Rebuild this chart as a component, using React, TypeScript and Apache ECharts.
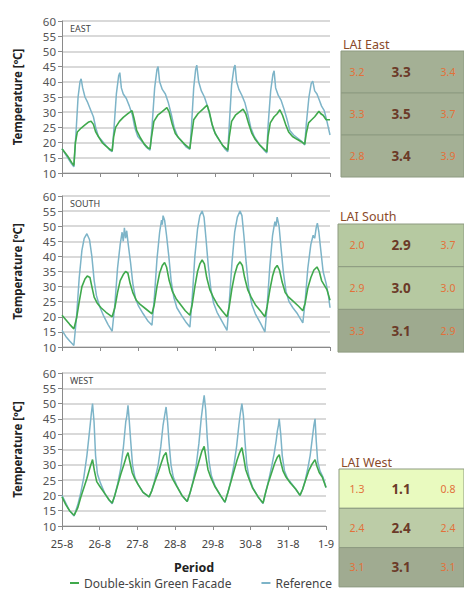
import React, { useEffect, useRef } from "react";
import * as echarts from "echarts";

const DATE_LABELS = ["25-8", "26-8", "27-8", "28-8", "29-8", "30-8", "31-8", "1-9"];
const SERIES_NAMES = ["Double-skin Green Facade", "Reference"];
const PANEL_NAMES = ["EAST", "SOUTH", "WEST"];

const EAST_REF = [
  [0, 18], [0.15, 15], [0.25, 13], [0.31, 12], [0.36, 22], [0.42, 35], [0.47, 40], [0.5, 41], [0.54, 38], [0.6, 35], [0.66, 33.5], [0.74, 31], [0.82, 28.5], [0.88, 25], [0.95, 22], [1.05, 20.5], [1.15, 19], [1.25, 17.5], [1.31, 17],
  [1.36, 25], [1.42, 36], [1.48, 42], [1.51, 43], [1.55, 38], [1.6, 36], [1.68, 34.5], [1.76, 32], [1.84, 29], [1.9, 25], [1.98, 22], [2.08, 20.5], [2.2, 18.5], [2.3, 17.5],
  [2.35, 25], [2.42, 38], [2.48, 44], [2.51, 45], [2.55, 40], [2.62, 37.5], [2.7, 36], [2.78, 33], [2.86, 29], [2.93, 25], [3.02, 22], [3.12, 20.5], [3.25, 18.5], [3.34, 17.8],
  [3.38, 25], [3.44, 38], [3.49, 44], [3.52, 45.5], [3.57, 40], [3.64, 37], [3.72, 35], [3.8, 32], [3.88, 28], [3.95, 24.5], [4.05, 22], [4.15, 20], [4.25, 18], [4.33, 17],
  [4.37, 26], [4.43, 39], [4.49, 44.5], [4.52, 45.5], [4.56, 40], [4.62, 37.5], [4.7, 35.5], [4.78, 33], [4.86, 29], [4.93, 25], [5.02, 22], [5.15, 19.5], [5.28, 17.5], [5.35, 16.6],
  [5.38, 25], [5.45, 37], [5.51, 42.5], [5.54, 43.6], [5.58, 38], [5.65, 35.5], [5.72, 34], [5.8, 31], [5.88, 27.5], [5.95, 24], [6.05, 22.5], [6.15, 21.5], [6.25, 20.5], [6.34, 19.2],
  [6.38, 26], [6.45, 35], [6.51, 39.5], [6.55, 40.2], [6.6, 37], [6.66, 36], [6.72, 34], [6.78, 32], [6.85, 30.5], [6.92, 27], [7.0, 22.5],
];
const EAST_DSGF = [
  [0, 18], [0.15, 15.5], [0.25, 13.5], [0.31, 12.5], [0.35, 20], [0.4, 23.5], [0.5, 24.8], [0.6, 25.8], [0.7, 26.8], [0.76, 27], [0.82, 26], [0.88, 23.5], [0.95, 22], [1.05, 20], [1.15, 18.8], [1.25, 17.8], [1.31, 17.3],
  [1.35, 22], [1.4, 25], [1.5, 27], [1.6, 28.3], [1.72, 29.5], [1.83, 30.5], [1.88, 28], [1.95, 24], [2.05, 21.5], [2.15, 19.5], [2.25, 18.2], [2.3, 18],
  [2.34, 22], [2.4, 27], [2.5, 29], [2.6, 30], [2.74, 31.5], [2.8, 30], [2.88, 26], [2.96, 23], [3.05, 21.5], [3.2, 19.5], [3.34, 18],
  [3.38, 22], [3.44, 27.5], [3.55, 29.5], [3.68, 31], [3.79, 32.3], [3.85, 30], [3.92, 26], [4.0, 23], [4.1, 21], [4.2, 19], [4.33, 17.5],
  [4.37, 22], [4.43, 27], [4.53, 29], [4.63, 30], [4.73, 31], [4.8, 29.5], [4.88, 26], [4.96, 23], [5.05, 21], [5.18, 19], [5.35, 17],
  [5.38, 22], [5.44, 26.5], [5.54, 28.5], [5.62, 29.5], [5.69, 30.8], [5.76, 29], [5.84, 26], [5.92, 23.5], [6.02, 22], [6.15, 21], [6.25, 20.3], [6.34, 19.5],
  [6.38, 23], [6.44, 26.5], [6.52, 27.5], [6.6, 28.5], [6.71, 30.3], [6.76, 29.5], [6.82, 29], [6.9, 27.5], [7.0, 27.5],
];

const SOUTH_REF = [
  [0, 15.5], [0.1, 13.5], [0.2, 12], [0.31, 10.5], [0.38, 20], [0.45, 33], [0.52, 42], [0.58, 46], [0.65, 47.5], [0.72, 45.5], [0.78, 40], [0.84, 32], [0.9, 27], [0.98, 23.5], [1.08, 20.5], [1.2, 17.5], [1.31, 15.2],
  [1.38, 24], [1.45, 36], [1.52, 44], [1.57, 48], [1.6, 45], [1.63, 49.5], [1.66, 46], [1.69, 48.5], [1.73, 44], [1.79, 38], [1.85, 31], [1.92, 26], [2.0, 23.5], [2.12, 21], [2.25, 18.5], [2.35, 17.2],
  [2.41, 26], [2.48, 39], [2.55, 48], [2.6, 52], [2.62, 50.5], [2.64, 53.5], [2.68, 52], [2.73, 47], [2.79, 40], [2.85, 32], [2.92, 26.5], [3.0, 23], [3.12, 20.5], [3.25, 18], [3.34, 16.6],
  [3.4, 26], [3.47, 40], [3.54, 49], [3.6, 53.5], [3.66, 55], [3.71, 53], [3.76, 46], [3.82, 37], [3.89, 29], [3.96, 24.5], [4.05, 21.5], [4.18, 18.5], [4.31, 15.5],
  [4.37, 25], [4.44, 38], [4.51, 48], [4.58, 53], [4.65, 55], [4.7, 53.5], [4.75, 47], [4.81, 38], [4.88, 29], [4.96, 24], [5.05, 21], [5.18, 18], [5.3, 15],
  [5.36, 24], [5.43, 37], [5.5, 47], [5.56, 51.5], [5.59, 50], [5.62, 53], [5.67, 50], [5.72, 43], [5.78, 35], [5.85, 28.5], [5.93, 25], [6.03, 23], [6.15, 21], [6.29, 18],
  [6.35, 25], [6.42, 36], [6.5, 44], [6.56, 47], [6.6, 46], [6.64, 49.5], [6.67, 51], [6.71, 48], [6.76, 42], [6.82, 35], [6.9, 31], [6.96, 27], [7.0, 23],
];
const SOUTH_DSGF = [
  [0, 20.5], [0.1, 19], [0.2, 17.5], [0.31, 16], [0.38, 19.5], [0.45, 25], [0.52, 30], [0.6, 32.5], [0.66, 33.5], [0.73, 33], [0.78, 30], [0.84, 26.5], [0.92, 24.5], [1.02, 23], [1.15, 21.5], [1.31, 20],
  [1.38, 23], [1.45, 28], [1.52, 32], [1.6, 34], [1.66, 35], [1.72, 34.5], [1.78, 31], [1.85, 28], [1.94, 25.5], [2.05, 24], [2.2, 22.5], [2.35, 21],
  [2.41, 24], [2.48, 30], [2.55, 34.5], [2.62, 37], [2.68, 38], [2.73, 36.5], [2.8, 32], [2.88, 28.5], [2.98, 26], [3.1, 24], [3.22, 22], [3.34, 20.5],
  [3.4, 24], [3.47, 30], [3.54, 35], [3.6, 37.5], [3.66, 38.8], [3.72, 37.5], [3.78, 33], [3.86, 29], [3.95, 26.5], [4.06, 24], [4.18, 22], [4.31, 20],
  [4.37, 23.5], [4.44, 29.5], [4.51, 34], [4.58, 37], [4.65, 38.2], [4.71, 37], [4.77, 33], [4.85, 29], [4.94, 26.5], [5.05, 24], [5.18, 22], [5.3, 20],
  [5.36, 23.5], [5.43, 29], [5.5, 33.5], [5.56, 36], [5.62, 37], [5.68, 35.5], [5.75, 31.5], [5.83, 28], [5.92, 26.5], [6.05, 25], [6.18, 23.5], [6.29, 22],
  [6.35, 24.5], [6.42, 29.5], [6.5, 33], [6.58, 35.5], [6.66, 36.5], [6.72, 35], [6.78, 32], [6.85, 30.5], [6.92, 29], [7.0, 25.5],
];

const WEST_REF = [
  [0, 20], [0.1, 17.5], [0.2, 15], [0.32, 13.3], [0.42, 17], [0.5, 21], [0.58, 26], [0.66, 33], [0.73, 41], [0.78, 47], [0.81, 50], [0.85, 44], [0.89, 33], [0.94, 27], [1.02, 24], [1.14, 20.5], [1.25, 18.5], [1.33, 17.3],
  [1.4, 20], [1.48, 24], [1.56, 29], [1.63, 36], [1.69, 44], [1.72, 46], [1.75, 49.4], [1.78, 45], [1.82, 38], [1.87, 30], [1.93, 26], [2.02, 23.5], [2.15, 21], [2.31, 19.5],
  [2.38, 21.5], [2.46, 25], [2.55, 30], [2.62, 36], [2.68, 43], [2.72, 46], [2.76, 48.9], [2.8, 44], [2.84, 37], [2.89, 30], [2.95, 26], [3.05, 23], [3.18, 20], [3.32, 18],
  [3.4, 21], [3.48, 25], [3.56, 30], [3.63, 37], [3.69, 45], [3.74, 50], [3.77, 52.7], [3.81, 48], [3.85, 39], [3.9, 31], [3.96, 26.5], [4.06, 23], [4.2, 20], [4.32, 17.7],
  [4.4, 21], [4.48, 25], [4.56, 30], [4.63, 36], [4.69, 43], [4.73, 47], [4.77, 50], [4.81, 46], [4.85, 38], [4.9, 30], [4.96, 26], [5.06, 22.5], [5.2, 19.5], [5.33, 17.3],
  [5.4, 21], [5.48, 25], [5.56, 29.5], [5.63, 34], [5.68, 38], [5.71, 41], [5.74, 43], [5.76, 45], [5.8, 40], [5.84, 33], [5.9, 28], [5.98, 25.5], [6.08, 24], [6.2, 22], [6.31, 20],
  [6.38, 22], [6.45, 25], [6.52, 29], [6.58, 33], [6.63, 38], [6.68, 43], [6.71, 45], [6.74, 38], [6.78, 31], [6.84, 28], [6.92, 26], [7.0, 22.6],
];
const WEST_DSGF = [
  [0, 19.5], [0.1, 17], [0.2, 15], [0.32, 13.5], [0.42, 16], [0.5, 19.5], [0.58, 22.5], [0.66, 25.5], [0.74, 29], [0.81, 31.7], [0.86, 28], [0.92, 24.5], [1.0, 23], [1.14, 20.5], [1.25, 18.5], [1.33, 17.5],
  [1.4, 20], [1.48, 23.5], [1.56, 27], [1.64, 30], [1.7, 32.5], [1.75, 34], [1.8, 31], [1.86, 27.5], [1.93, 25.5], [2.02, 23.5], [2.15, 21], [2.31, 19.5],
  [2.38, 21.5], [2.46, 24.5], [2.55, 27.5], [2.63, 30.5], [2.7, 33], [2.76, 34], [2.8, 31], [2.86, 27.5], [2.93, 25.5], [3.04, 23], [3.18, 20], [3.32, 18],
  [3.4, 21], [3.48, 24.5], [3.56, 28], [3.64, 31.5], [3.71, 34.5], [3.77, 36], [3.81, 33], [3.87, 28.5], [3.94, 26], [4.05, 23], [4.2, 20], [4.32, 17.8],
  [4.4, 21], [4.48, 24.5], [4.56, 28], [4.64, 31.5], [4.71, 34], [4.77, 35.6], [4.81, 33], [4.87, 28.5], [4.94, 26], [5.05, 22.5], [5.2, 19.5], [5.33, 17.5],
  [5.4, 21], [5.48, 24.5], [5.56, 27.5], [5.64, 30.5], [5.71, 32.5], [5.76, 33.3], [5.8, 31], [5.86, 28], [5.94, 26], [6.06, 24], [6.2, 22], [6.31, 20],
  [6.38, 22], [6.46, 25], [6.54, 28], [6.62, 30], [6.71, 31.7], [6.76, 29.5], [6.82, 27.5], [6.9, 26], [7.0, 22.6],
];

const LAI_TITLES = ["LAI East", "LAI South", "LAI West"];
const LAI_EAST = [[3.2, 3.3, 3.4], [3.3, 3.5, 3.7], [2.8, 3.4, 3.9]];
const LAI_SOUTH = [[2.0, 2.9, 3.7], [2.9, 3.0, 3.0], [3.3, 3.1, 2.9]];
const LAI_WEST = [[1.3, 1.1, 0.8], [2.4, 2.4, 2.4], [3.1, 3.1, 3.1]];

// layout (pixels)
const GRIDS = [
  { left: 62, top: 21, width: 268, height: 152 },
  { left: 62, top: 196, width: 268, height: 151 },
  { left: 62, top: 373, width: 264, height: 153 },
];
const LAI_BOXES = [
  { x: 341, top: 51, rowH: 42, titleY: 44, fills: ["#a4b095", "#a4b095", "#a4b095"] },
  { x: 338, top: 224, rowH: 42.7, titleY: 216, fills: ["#b6c9a1", "#b6c9a1", "#9eaa8f"] },
  { x: 339, top: 469, rowH: 39.3, titleY: 462, fills: ["#e9fabf", "#bccca7", "#a0ab91"] },
];
const COL_X = [357, 401, 448];

const GREEN = "#3fa94c";
const BLUE = "#7db4c8";
const FONT = "'Noto Sans', sans-serif";

export default function App() {
  const ref = useRef<HTMLDivElement>(null);
  useEffect(() => {
    if (!ref.current) return;
    const chart = echarts.init(ref.current, null, { renderer: "svg" });
    const refData = [EAST_REF, SOUTH_REF, WEST_REF];
    const dsgfData = [EAST_DSGF, SOUTH_DSGF, WEST_DSGF];
    const laiData = [LAI_EAST, LAI_SOUTH, LAI_WEST];

    const grid = GRIDS.map((g) => ({ ...g }));
    const xAxis = GRIDS.map((_, i) => ({
      type: "value",
      gridIndex: i,
      min: 0,
      max: 7,
      interval: 1,
      axisLine: { show: true, lineStyle: { color: "#8a8a8a", width: 1 } },
      axisTick: { show: true, length: 4, lineStyle: { color: "#8a8a8a" } },
      splitLine: { show: false },
      axisLabel: {
        show: i === 2,
        color: "#444",
        fontSize: 11,
        fontFamily: FONT,
        margin: 12,
        formatter: (v: number) => DATE_LABELS[Math.round(v)] ?? "",
      },
      name: i === 2 ? "Period" : "",
      nameLocation: "middle",
      nameGap: 35,
      nameTextStyle: { fontSize: 12.5, fontWeight: "bold", color: "#222", fontFamily: FONT },
    }));
    const yAxis = GRIDS.map((_, i) => ({
      type: "value",
      gridIndex: i,
      min: 10,
      max: 60,
      interval: 5,
      axisLine: { show: true, lineStyle: { color: "#8a8a8a", width: 1 } },
      axisTick: { show: true, length: 4, lineStyle: { color: "#8a8a8a" } },
      splitLine: { show: true, lineStyle: { color: "#cdcdcd", width: 1.6 } },
      axisLabel: { color: "#555", fontSize: 11.5, fontFamily: FONT, margin: 6 },
      name: "Temperature [ºC]",
      nameLocation: "middle",
      nameRotate: 90,
      nameGap: 39,
      nameTextStyle: { fontSize: 11.5, fontWeight: "bold", color: "#222", fontFamily: FONT },
    }));

    const series: any[] = [];
    GRIDS.forEach((_, i) => {
      series.push({
        name: SERIES_NAMES[1],
        type: "line",
        xAxisIndex: i,
        yAxisIndex: i,
        data: refData[i],
        showSymbol: false,
        lineStyle: { color: BLUE, width: 1.5 },
        itemStyle: { color: BLUE },
      });
      series.push({
        name: SERIES_NAMES[0],
        type: "line",
        xAxisIndex: i,
        yAxisIndex: i,
        data: dsgfData[i],
        showSymbol: false,
        lineStyle: { color: GREEN, width: 1.6 },
        itemStyle: { color: GREEN },
      });
    });

    const graphic: any[] = [];
    PANEL_NAMES.forEach((p, i) => {
      graphic.push({
        type: "text",
        left: GRIDS[i].left + 8,
        top: GRIDS[i].top + 3,
        style: { text: p, fontSize: 9, fill: "#444", fontFamily: FONT },
      });
    });
    LAI_BOXES.forEach((b, i) => {
      graphic.push({
        type: "text",
        x: b.x + 2,
        y: b.titleY,
        style: {
          text: LAI_TITLES[i],
          fontSize: 12.5,
          fill: "#8a4a2a",
          fontFamily: FONT,
          verticalAlign: "middle",
        },
      });
      laiData[i].forEach((row, r) => {
        const y0 = b.top + r * b.rowH;
        graphic.push({
          type: "rect",
          shape: { x: b.x, y: y0, width: 464 - b.x, height: b.rowH },
          style: { fill: b.fills[r], stroke: "#8d9a80", lineWidth: 1 },
        });
        row.forEach((v, c) => {
          const center = c === 1;
          graphic.push({
            type: "text",
            x: COL_X[c],
            y: y0 + b.rowH / 2,
            style: {
              text: v.toFixed(1),
              fontSize: center ? 13.5 : 10.5,
              fontWeight: center ? "bold" : "normal",
              fill: center ? "#6b3a28" : "#e2713a",
              fontFamily: FONT,
              align: "center",
              verticalAlign: "middle",
            },
          });
        });
      });
    });

    chart.setOption({
      animation: false,
      textStyle: { fontFamily: FONT },
      grid,
      xAxis,
      yAxis,
      series,
      legend: {
        data: SERIES_NAMES,
        left: 70,
        top: 577,
        padding: 0,
        icon: "rect",
        itemWidth: 9,
        itemHeight: 2,
        itemGap: 30,
        textStyle: { fontSize: 12, color: "#444", fontFamily: FONT },
      },
      graphic,
    });
    return () => chart.dispose();
  }, []);
  return (
    <div
      ref={ref}
      style={{ position: "absolute", left: 0, top: 0, width: 464, height: 592, background: "#fff" }}
    />
  );
}
